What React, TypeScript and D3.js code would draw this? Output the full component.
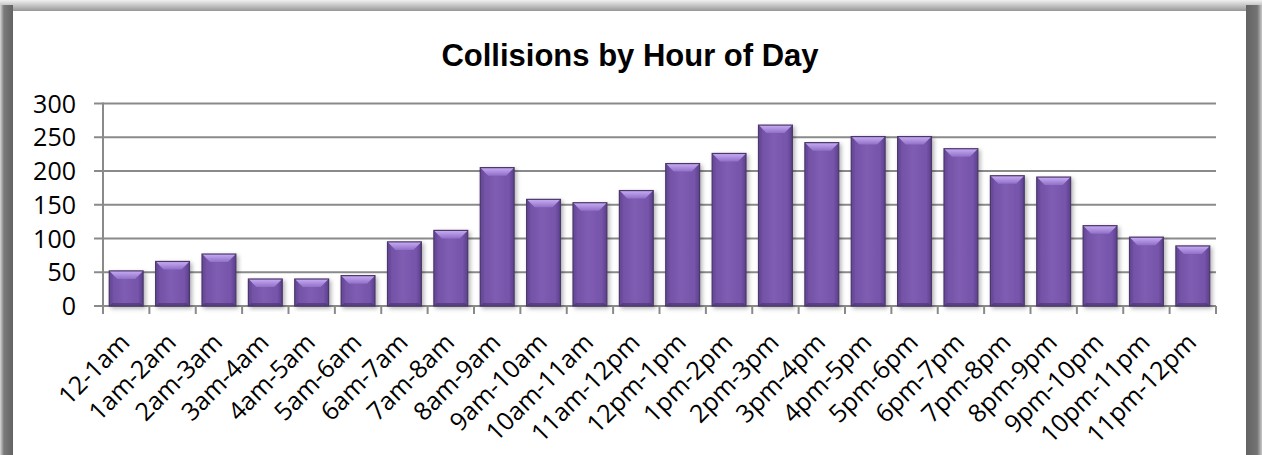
import React from "react";
import * as d3 from "d3";

const categories = [
  "12-1am", "1am-2am", "2am-3am", "3am-4am", "4am-5am", "5am-6am",
  "6am-7am", "7am-8am", "8am-9am", "9am-10am", "10am-11am", "11am-12pm",
  "12pm-1pm", "1pm-2pm", "2pm-3pm", "3pm-4pm", "4pm-5pm", "5pm-6pm",
  "6pm-7pm", "7pm-8pm", "8pm-9pm", "9pm-10pm", "10pm-11pm", "11pm-12pm",
];
const collisions = [
  52, 66, 77, 40, 40, 45, 95, 112, 205, 158, 153, 171,
  211, 226, 268, 242, 251, 251, 233, 193, 191, 119, 102, 89,
];
const yTicks = [0, 50, 100, 150, 200, 250, 300];
const title = "Collisions by Hour of Day";

const W = 1262;
const H = 455;
const plot = { left: 103, right: 1216, top: 103.5, bottom: 306 };

export default function App() {
  const x = d3
    .scaleBand<string>()
    .domain(categories)
    .range([plot.left, plot.right])
    .paddingInner(0.27)
    .paddingOuter(0.135);
  const y = d3.scaleLinear().domain([0, 300]).range([plot.bottom, plot.top]);
  const step = x.step();
  const boundaries = d3.range(categories.length + 1).map((i) => plot.left + i * step);
  const font = "'Open Sans', 'DejaVu Sans', sans-serif";
  const bev = 8;

  return (
    <svg
      width={W}
      height={H}
      style={{ position: "fixed", left: 0, top: 0, display: "block" }}
    >
      <defs>
        <linearGradient id="leftShadow" x1="0" x2="1" y1="0" y2="0">
          <stop offset="0" stopColor="#d8d8d8" />
          <stop offset="0.3" stopColor="#7a7a7a" />
          <stop offset="1" stopColor="#636363" />
        </linearGradient>
        <linearGradient id="rightShadow" x1="0" x2="1" y1="0" y2="0">
          <stop offset="0" stopColor="#636363" />
          <stop offset="0.7" stopColor="#747474" />
          <stop offset="1" stopColor="#c8c8c8" />
        </linearGradient>
        <linearGradient id="topShadow" x1="0" x2="0" y1="0" y2="1">
          <stop offset="0" stopColor="#f0f0f0" />
          <stop offset="0.5" stopColor="#c0c0c0" />
          <stop offset="1" stopColor="#8e8e8e" />
        </linearGradient>
        <linearGradient id="barBody" x1="0" x2="1" y1="0" y2="0">
          <stop offset="0" stopColor="#5e4290" />
          <stop offset="0.12" stopColor="#7352a6" />
          <stop offset="0.45" stopColor="#7f5db2" />
          <stop offset="0.85" stopColor="#7654aa" />
          <stop offset="1" stopColor="#5a3f8a" />
        </linearGradient>
        <linearGradient id="barTop" x1="0" x2="0" y1="0" y2="1">
          <stop offset="0" stopColor="#c9adf5" />
          <stop offset="1" stopColor="#9070c8" />
        </linearGradient>
        <filter id="barShadow" x="-30%" y="-10%" width="160%" height="130%">
          <feDropShadow dx="2" dy="2" stdDeviation="2" floodColor="#000" floodOpacity="0.3" />
        </filter>
      </defs>

      <rect x={0} y={0} width={W} height={H} fill="#ffffff" />
      <rect x={0} y={0} width={W} height={12} fill="url(#topShadow)" />
      <rect x={0} y={5} width={13} height={H} fill="url(#leftShadow)" />
      <rect x={1246} y={5} width={16} height={H} fill="url(#rightShadow)" />
      <rect x={13} y={11} width={1233} height={H} fill="#ffffff" />

      <text
        x={630}
        y={66}
        textAnchor="middle"
        fontFamily="'Liberation Sans', Arial, sans-serif"
        fontWeight="bold"
        fontSize={31}
        fill="#000"
      >
        {title}
      </text>

      {yTicks.map((t) => (
        <g key={t}>
          <line x1={94} x2={plot.right} y1={y(t)} y2={y(t)} stroke="#8a8a8a" strokeWidth={2} />
          <text
            x={76}
            y={y(t)}
            dy="0.36em"
            textAnchor="end"
            fontFamily={font}
            fontSize={25}
            fill="#000"
          >
            {t}
          </text>
        </g>
      ))}

      <line x1={plot.left} x2={plot.left} y1={plot.top - 1} y2={plot.bottom + 8} stroke="#8a8a8a" strokeWidth={2} />
      {boundaries.map((bx, i) => (
        <line key={i} x1={bx} x2={bx} y1={plot.bottom} y2={plot.bottom + 8} stroke="#8a8a8a" strokeWidth={2} />
      ))}

      {categories.map((c, i) => {
        const bx = x(c) as number;
        const bw = x.bandwidth();
        const by = y(collisions[i]);
        const bh = plot.bottom - by;
        return (
          <g key={c} filter="url(#barShadow)">
            <rect x={bx} y={by} width={bw} height={bh} fill="url(#barBody)" />
            <polygon
              points={`${bx},${by} ${bx + bw},${by} ${bx + bw - bev},${by + bev} ${bx + bev},${by + bev}`}
              fill="url(#barTop)"
            />
            <polygon
              points={`${bx},${by} ${bx + 3},${by + 3} ${bx + 3},${plot.bottom - 3} ${bx},${plot.bottom}`}
              fill="#6a4b9c"
              opacity={0.6}
            />
            <polygon
              points={`${bx},${plot.bottom} ${bx + 3},${plot.bottom - 3} ${bx + bw - 3},${plot.bottom - 3} ${bx + bw},${plot.bottom}`}
              fill="#4e3678"
              opacity={0.7}
            />
            <rect x={bx} y={by} width={bw} height={bh} fill="none" stroke="#4a3868" strokeWidth={1.2} />
          </g>
        );
      })}

      {categories.map((c) => {
        const cx = (x(c) as number) + x.bandwidth() / 2 + 5;
        const cy = 344;
        return (
          <text
            key={c}
            transform={`translate(${cx},${cy}) rotate(-45)`}
            textAnchor="end"
            fontFamily={font}
            fontSize={25}
            fill="#000"
          >
            {c}
          </text>
        );
      })}
    </svg>
  );
}
